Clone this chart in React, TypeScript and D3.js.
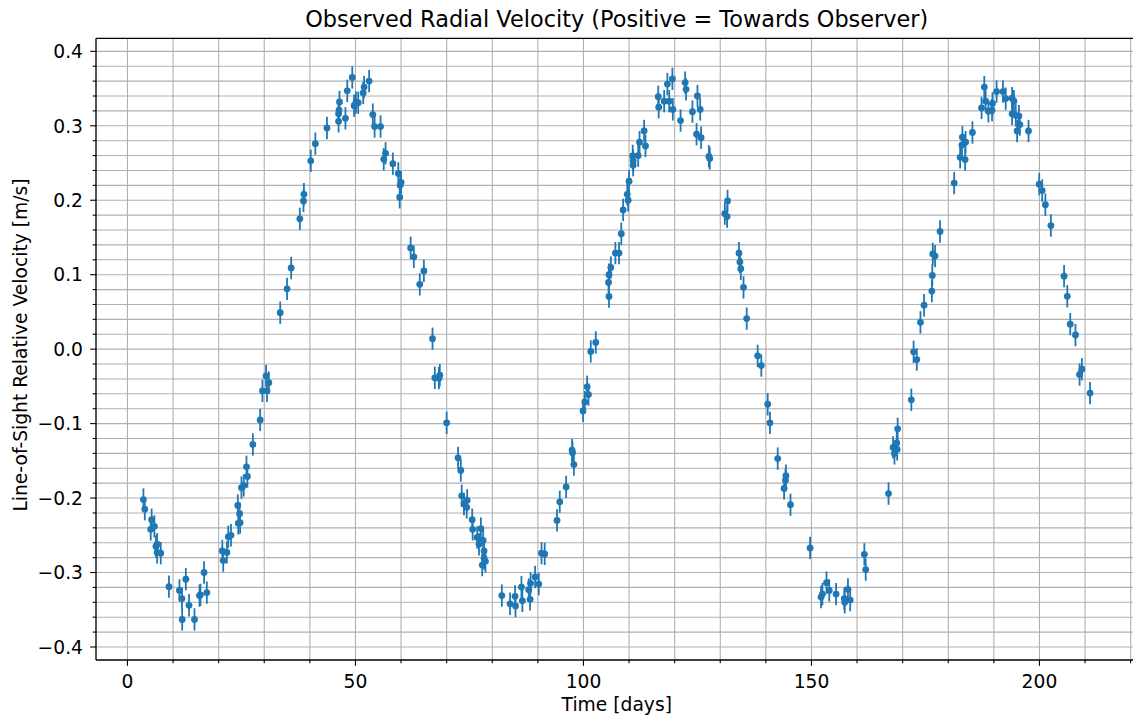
import * as d3 from "d3";
import React, { useRef, useEffect } from "react";

// observation times [days]
const times = [
  3.5, 3.8, 5.1, 5.3, 5.9, 6.25, 6.5, 6.5, 7.3, 9.1, 11.4, 11.95, 12.0, 12.8, 13.5, 14.7, 15.8, 16.0, 16.8, 17.4,
  20.8, 21.0, 21.8, 22.1, 22.7, 24.2, 24.3, 24.6, 24.7, 25.0, 25.5, 26.1, 26.3, 27.5, 29.1, 29.6, 30.4, 30.6, 31.0,
  33.5, 35.0, 35.9, 37.8, 38.6, 38.7, 40.2, 41.2, 43.75, 46.3, 46.3, 46.4, 46.5, 47.8, 48.2, 49.3, 49.7, 50.1, 50.6,
  51.7, 51.9, 53.0, 53.8, 54.2, 55.5, 56.2, 56.6, 58.2, 59.4, 59.7, 59.8, 60.0, 62.1, 62.8, 64.1, 65.0, 66.9,
  67.4, 68.3, 68.5, 70.0, 72.5, 73.1, 73.3, 73.8, 74.4, 74.5, 75.6, 75.7, 76.7, 77.1, 77.5, 77.8, 78.0, 78.2, 78.2, 78.5,
  82.1, 83.9, 85.0, 85.1, 86.4, 86.6, 88.0, 88.3, 88.4, 89.4, 90.2, 90.8, 91.5, 94.2, 94.8, 96.2, 97.5, 97.6, 97.9,
  99.9, 100.3, 100.8, 101.1, 101.6, 102.7, 105.6, 105.5, 105.6, 106.0, 107.0, 107.8, 108.3, 108.7, 109.6, 109.8, 110.0,
  110.8, 110.9, 110.9, 112.0, 112.3, 113.3, 113.6, 116.4, 116.5, 117.7, 118.4, 118.8, 119.5, 119.6, 121.3, 122.3, 122.5,
  123.9, 124.8, 125.0, 125.6, 125.8, 127.5, 127.7, 131.0, 131.5, 131.6, 134.1, 134.3, 134.5, 135.1, 135.8,
  138.2, 139.0, 140.4, 140.9, 142.6, 144.0, 144.3, 144.4, 145.4, 149.7, 152.1, 152.4, 153.3, 153.9, 155.4, 157.2, 157.3,
  158.0, 158.5, 161.6, 161.9, 166.9, 167.9, 168.2, 168.7, 168.8, 168.9, 171.9, 172.4, 173.1, 173.9, 174.7, 176.4, 176.5,
  176.6, 177.1, 178.2, 181.3, 182.6, 183.0, 183.1, 183.7, 183.8, 185.3, 187.3, 187.9, 188.2, 188.8, 189.6, 189.7, 190.6,
  192.0, 192.6, 194.0, 194.0, 194.4, 194.8, 195.1, 195.5, 195.7, 197.6, 199.95, 200.6, 201.3, 202.5, 205.4, 206.1, 206.75,
  207.9, 208.8, 209.3, 211.1
];

// line-of-sight velocity [m/s]
const velocity = [
  -0.202, -0.215, -0.242, -0.229, -0.238, -0.265, -0.262, -0.273, -0.274, -0.319, -0.324, -0.335, -0.363, -0.309, -0.344, -0.363, -0.331, -0.330, -0.300, -0.327,
  -0.271, -0.284, -0.273, -0.252, -0.250, -0.210, -0.234, -0.221, -0.233, -0.186, -0.183, -0.158, -0.171, -0.128, -0.095, -0.056, -0.036, -0.056, -0.045,
  0.049, 0.081, 0.109, 0.175, 0.199, 0.208, 0.253, 0.276, 0.297, 0.306, 0.316, 0.321, 0.332, 0.310, 0.347, 0.365, 0.327, 0.331, 0.331,
  0.344, 0.352, 0.360, 0.315, 0.299, 0.299, 0.255, 0.263, 0.249, 0.236, 0.204, 0.220, 0.224, 0.136, 0.124, 0.087, 0.105, 0.014,
  -0.0385, -0.039, -0.035, -0.099, -0.146, -0.163, -0.197, -0.208, -0.2125, -0.203, -0.229, -0.242, -0.253, -0.262, -0.241, -0.290, -0.257, -0.271, -0.281, -0.285,
  -0.331, -0.342, -0.332, -0.345, -0.3195, -0.338, -0.323, -0.336, -0.3145, -0.306, -0.3155, -0.274, -0.275, -0.230, -0.205, -0.185, -0.1356, -0.139, -0.155,
  -0.083, -0.071, -0.0506, -0.061, -0.003, 0.009, 0.0707, 0.0895, 0.100, 0.1097, 0.129, 0.129, 0.155, 0.187, 0.208, 0.200, 0.2255,
  0.2595, 0.247, 0.253, 0.260, 0.278, 0.293, 0.273, 0.339, 0.325, 0.333, 0.356, 0.333, 0.363, 0.322, 0.307, 0.358, 0.349,
  0.319, 0.2886, 0.340, 0.322, 0.284, 0.259, 0.256, 0.182, 0.178, 0.199, 0.129, 0.117, 0.108, 0.083, 0.041,
  -0.009, -0.022, -0.074, -0.099, -0.147, -0.187, -0.176, -0.170, -0.209, -0.267, -0.333, -0.329, -0.3136, -0.324, -0.329, -0.335, -0.340,
  -0.3226, -0.337, -0.2756, -0.296, -0.194, -0.132, -0.140, -0.126, -0.1347, -0.107, -0.068, -0.0036, -0.014, 0.036, 0.059, 0.078, 0.099,
  0.128, 0.125, 0.158, 0.223, 0.2577, 0.274, 0.2846, 0.2546, 0.278, 0.291, 0.324, 0.352, 0.333, 0.3195, 0.321, 0.330, 0.346,
  0.346, 0.3365, 0.337, 0.316, 0.333, 0.314, 0.293, 0.313, 0.3016, 0.293, 0.2215, 0.213, 0.194, 0.166, 0.098, 0.071, 0.0336,
  0.019, -0.034, -0.027, -0.059
];

const velocityErr = 0.015;

const xMajorTicks = [0, 50, 100, 150, 200];
const yMajorTicks = [-0.4, -0.3, -0.2, -0.1, 0.0, 0.1, 0.2, 0.3, 0.4];

function App() {
  const ref = useRef<SVGSVGElement>(null);

  useEffect(() => {
    const svg = d3.select(ref.current);
    svg.selectAll("*").remove();

    const width = 1133;
    const height = 719;
    const left = 96, right = 1137.5, top = 38.3, bottom = 660;
    const font = "DejaVu Sans, sans-serif";
    const blue = "#1f77b4";
    const tickSize = 18.7;

    const x = d3.scaleLinear().domain([-6.9, 221.5]).range([left, right]);
    const y = d3.scaleLinear().domain([-0.4175, 0.4175]).range([bottom, top]);

    svg.attr("width", width).attr("height", height);

    const xMinor = d3.range(-0, 230, 10).filter(v => x(v) >= left && x(v) <= right);
    const yMinor = d3.range(-0.42, 0.4201, 0.02).filter(v => y(v) >= top - 0.5 && y(v) <= bottom + 0.5);

    const grid = svg.append("g").attr("class", "grid");
    grid.selectAll(".gx").data(xMinor).enter().append("line")
      .attr("x1", d => x(d)).attr("x2", d => x(d))
      .attr("y1", top).attr("y2", bottom)
      .attr("stroke", "#b0b0b0").attr("stroke-width", 1.1);
    grid.selectAll(".gy").data(yMinor).enter().append("line")
      .attr("x1", left).attr("x2", right)
      .attr("y1", d => y(d)).attr("y2", d => y(d))
      .attr("stroke", "#b0b0b0").attr("stroke-width", 1.1);

    const idx = d3.range(times.length);

    // error bars first, then markers on top
    svg.append("g").selectAll("line").data(idx).enter().append("line")
      .attr("x1", i => x(times[i])).attr("x2", i => x(times[i]))
      .attr("y1", i => y(velocity[i] - velocityErr))
      .attr("y2", i => y(velocity[i] + velocityErr))
      .attr("stroke", blue).attr("stroke-width", 1.8);

    svg.append("g").selectAll("circle").data(idx).enter().append("circle")
      .attr("cx", i => x(times[i])).attr("cy", i => y(velocity[i]))
      .attr("r", 3.4).attr("fill", blue);

    // spines
    svg.append("line").attr("x1", left).attr("x2", left).attr("y1", top).attr("y2", bottom)
      .attr("stroke", "black").attr("stroke-width", 1.33);
    svg.append("line").attr("x1", left).attr("x2", right).attr("y1", bottom).attr("y2", bottom)
      .attr("stroke", "black").attr("stroke-width", 1.33);
    svg.append("line").attr("x1", left).attr("x2", right).attr("y1", top).attr("y2", top)
      .attr("stroke", "black").attr("stroke-width", 1.33);

    // x ticks
    const xAxis = svg.append("g");
    xAxis.selectAll(".mt").data(xMinor).enter().append("line")
      .attr("x1", d => x(d)).attr("x2", d => x(d))
      .attr("y1", bottom).attr("y2", d => bottom + (xMajorTicks.includes(d) ? 5.8 : 3.3))
      .attr("stroke", "black").attr("stroke-width", 1.1);
    xAxis.selectAll("text").data(xMajorTicks).enter().append("text")
      .attr("x", d => x(d)).attr("y", 688)
      .attr("text-anchor", "middle")
      .attr("font-family", font).attr("font-size", tickSize)
      .text(d => String(d));

    // y ticks
    const yAxis = svg.append("g");
    yAxis.selectAll(".mt").data(yMinor).enter().append("line")
      .attr("x1", left).attr("x2", d => left - (Math.abs(Math.round(d * 100)) % 10 === 0 ? 5.8 : 3.3))
      .attr("y1", d => y(d)).attr("y2", d => y(d))
      .attr("stroke", "black").attr("stroke-width", 1.1);
    yAxis.selectAll("text").data(yMajorTicks).enter().append("text")
      .attr("x", 83).attr("y", d => y(d))
      .attr("dy", "0.36em")
      .attr("text-anchor", "end")
      .attr("font-family", font).attr("font-size", tickSize)
      .text(d => d3.format(".1f")(d));

    // labels
    svg.append("text")
      .attr("x", (left + right) / 2).attr("y", 27)
      .attr("text-anchor", "middle")
      .attr("font-family", font).attr("font-size", 22.4)
      .text("Observed Radial Velocity (Positive = Towards Observer)");

    svg.append("text")
      .attr("x", (left + right) / 2).attr("y", 711)
      .attr("text-anchor", "middle")
      .attr("font-family", font).attr("font-size", tickSize)
      .text("Time [days]");

    svg.append("text")
      .attr("transform", `translate(27, 345) rotate(-90)`)
      .attr("text-anchor", "middle")
      .attr("font-family", font).attr("font-size", tickSize)
      .text("Line-of-Sight Relative Velocity [m/s]");
  }, []);

  return (
    <svg ref={ref} style={{ position: "absolute", left: 0, top: 0, background: "white" }} />
  );
}

export default App;
